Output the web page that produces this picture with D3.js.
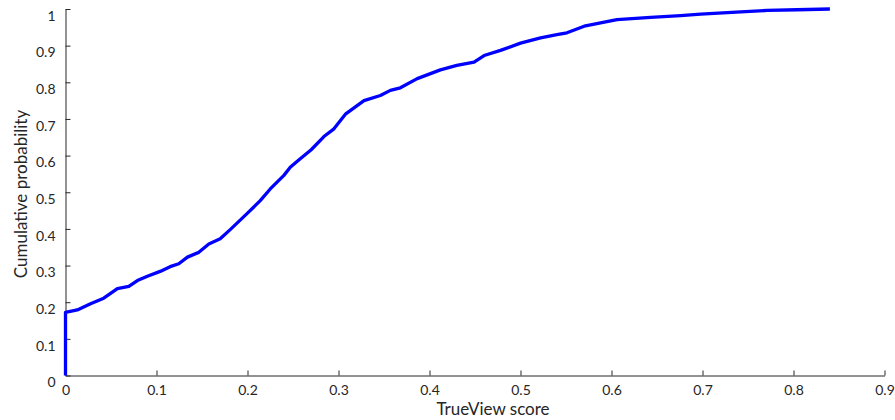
<!DOCTYPE html>
<html>
<head>
<meta charset="utf-8">
<script src="https://cdn.jsdelivr.net/npm/d3@7"></script>
<style>
  body { margin: 0; background: #fff; }
  svg { font-family: Lato, "Open Sans", sans-serif; }
</style>
</head>
<body>
<svg id="chart" width="895" height="420"></svg>
<script>
var scores = [0, 0, 0.013, 0.0275, 0.042, 0.057, 0.0696, 0.079, 0.090, 0.104, 0.115, 0.1245,
    0.134, 0.1465, 0.1575, 0.170, 0.181, 0.200, 0.214, 0.225, 0.240, 0.247, 0.256, 0.270,
    0.284, 0.295, 0.308, 0.328, 0.346, 0.357, 0.368, 0.3865, 0.412, 0.430, 0.449, 0.460,
    0.478, 0.500, 0.522, 0.540, 0.551, 0.570, 0.588, 0.606, 0.643, 0.676, 0.698, 0.742,
    0.771, 0.804, 0.840];
var probs = [0, 0.172, 0.179, 0.196, 0.211, 0.237, 0.243, 0.259, 0.271, 0.284, 0.297, 0.305,
    0.323, 0.336, 0.359, 0.373, 0.398, 0.443, 0.477, 0.509, 0.546, 0.568, 0.587, 0.616,
    0.652, 0.673, 0.714, 0.750, 0.764, 0.778, 0.785, 0.810, 0.834, 0.846, 0.855, 0.873,
    0.887, 0.907, 0.921, 0.930, 0.935, 0.953, 0.962, 0.971, 0.977, 0.982, 0.986, 0.992,
    0.996, 0.998, 1.0];
var xTicks = [0, 0.1, 0.2, 0.3, 0.4, 0.5, 0.6, 0.7, 0.8, 0.9];
var yTicks = [0, 0.1, 0.2, 0.3, 0.4, 0.5, 0.6, 0.7, 0.8, 0.9, 1];

var svg = d3.select('#chart');
var axisColor = '#262626';

var xScale = d3.scaleLinear().domain([0, 0.9]).range([65.5, 884.5]);
var yScale = d3.scaleLinear().domain([0, 1]).range([375.5, 9]);

var xAxis = d3.axisBottom(xScale)
    .tickValues(xTicks)
    .tickFormat(d3.format('~g'))
    .tickSizeInner(-5)
    .tickSizeOuter(0)
    .tickPadding(10);

var yAxis = d3.axisLeft(yScale)
    .tickValues(yTicks)
    .tickFormat(d3.format('~g'))
    .tickSizeInner(-5)
    .tickSizeOuter(0)
    .tickPadding(10);

var gx = svg.append('g')
    .attr('transform', 'translate(0,' + yScale(0) + ')')
    .call(xAxis);

var gy = svg.append('g')
    .attr('transform', 'translate(' + xScale(0) + ',0)')
    .call(yAxis);

[gx, gy].forEach(function (g) {
    g.select('.domain').attr('stroke', axisColor);
    g.selectAll('.tick line').attr('stroke', axisColor);
    g.selectAll('.tick text')
        .attr('fill', axisColor)
        .style('font-size', '14px')
        .style('font-family', 'Lato, sans-serif');
});
gy.selectAll('.tick text').attr('dy', '0.8em');

// curve
var line = d3.line()
    .x(function (d, i) { return xScale(scores[i]); })
    .y(function (d, i) { return yScale(probs[i]); });

svg.append('path')
    .datum(scores)
    .attr('d', line)
    .attr('fill', 'none')
    .attr('stroke', '#0000ff')
    .attr('stroke-width', 3.3)
    .attr('stroke-linejoin', 'round');

// axis titles
svg.append('text')
    .attr('x', 493)
    .attr('y', 415)
    .attr('text-anchor', 'middle')
    .attr('fill', axisColor)
    .style('font-size', '17px')
    .text('TrueView score');

svg.append('text')
    .attr('transform', 'translate(27,194) rotate(-90)')
    .attr('text-anchor', 'middle')
    .attr('fill', axisColor)
    .style('font-size', '17px')
    .text('Cumulative probability');
</script>
</body>
</html>
